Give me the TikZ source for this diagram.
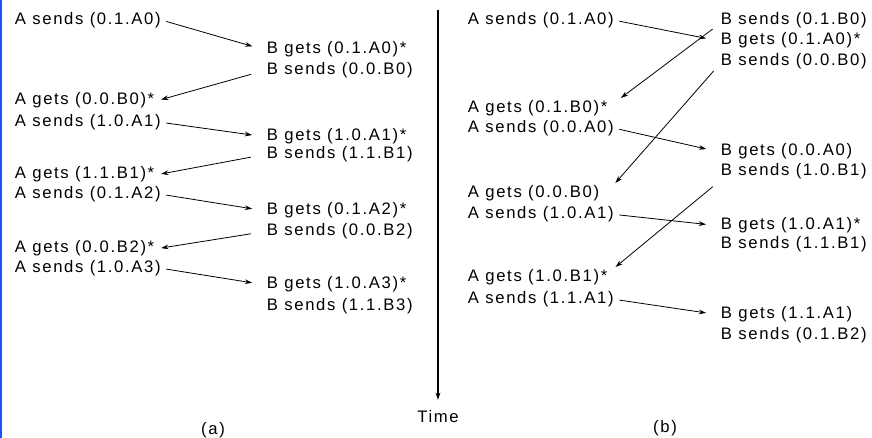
\documentclass[tikz,border=0pt]{standalone}
\usepackage{fontspec}
\usetikzlibrary{arrows.meta}
\setmainfont{Liberation Sans}[LetterSpace=10]
\definecolor{edgeblue}{RGB}{25,85,245}
\begin{document}
\begin{tikzpicture}[x=0.75pt, y=-0.75pt, >={Stealth[length=5.5pt,width=3.5pt]},
    lbl/.style={anchor=base west, inner sep=2pt, font=\fontsize{12.5}{15}\selectfont},
    ab/.style={->, line width=0.6pt, shorten <=2pt, shorten >=9pt},
    ba/.style={->, line width=0.6pt, shorten <=10pt, shorten >=3pt},
    cross/.style={->, line width=0.6pt, shorten <=5pt}]
    \useasboundingbox (0,0) rectangle (872,438);
    \draw[edgeblue, line width=1.5pt] (0.8,0) -- (0.8,438);

    \begin{scope}
        \node[lbl] (as0) at (12,25)  {A sends (0.1.A0)};
        \node[lbl] (ag0) at (12,105) {A gets (0.0.B0)*};
        \node[lbl] (as1) at (12,127) {A sends (1.0.A1)};
        \node[lbl] (ag1) at (12,179) {A gets (1.1.B1)*};
        \node[lbl] (as2) at (12,199) {A sends (0.1.A2)};
        \node[lbl] (ag2) at (12,253) {A gets (0.0.B2)*};
        \node[lbl] (as3) at (12,273) {A sends (1.0.A3)};

        \node[lbl] (bg0) at (264,54)  {B gets (0.1.A0)*};
        \node[lbl] (bs0) at (264,75)  {B sends (0.0.B0)};
        \node[lbl] (bg1) at (264,141) {B gets (1.0.A1)*};
        \node[lbl] (bs1) at (264,159) {B sends (1.1.B1)};
        \node[lbl] (bg2) at (264,215) {B gets (0.1.A2)*};
        \node[lbl] (bs2) at (264,236) {B sends (0.0.B2)};
        \node[lbl] (bg3) at (264,289) {B gets (1.0.A3)*};
        \node[lbl] (bs3) at (264,311) {B sends (1.1.B3)};

        \draw[ab] (as0.east) -- (bg0.west);
        \draw[ba] (bs0.west) -- (ag0.east);
        \draw[ab] (as1.east) -- (bg1.west);
        \draw[ba] (bs1.west) -- (ag1.east);
        \draw[ab] (as2.east) -- (bg2.west);
        \draw[ba] (bs2.west) -- (ag2.east);
        \draw[ab] (as3.east) -- (bg3.west);

        \node[lbl, anchor=center] (capa) at (213,430) {(a)};
    \end{scope}

    \coordinate (ttop) at (438,10);
    \node[lbl, anchor=center] (time) at (438,417) {Time};
    \draw[->, line width=1.5pt, shorten >=6pt] (ttop) -- (time.north);

    \begin{scope}
        \node[lbl] (as0) at (465,25)  {A sends (0.1.A0)};
        \node[lbl] (ag0) at (465,113) {A gets (0.1.B0)*};
        \node[lbl] (as1) at (465,133) {A sends (0.0.A0)};
        \node[lbl] (ag1) at (465,198) {A gets (0.0.B0)};
        \node[lbl] (as2) at (465,219) {A sends (1.0.A1)};
        \node[lbl] (ag2) at (465,282) {A gets (1.0.B1)*};
        \node[lbl] (as3) at (465,304) {A sends (1.1.A1)};

        \node[lbl] (bs0) at (718,25)  {B sends (0.1.B0)};
        \node[lbl] (bg0) at (718,45)  {B gets (0.1.A0)*};
        \node[lbl] (bs1) at (718,66)  {B sends (0.0.B0)};
        \node[lbl] (bg1) at (718,156) {B gets (0.0.A0)};
        \node[lbl] (bs2) at (718,176) {B sends (1.0.B1)};
        \node[lbl] (bg2) at (718,230) {B gets (1.0.A1)*};
        \node[lbl] (bs3) at (718,249) {B sends (1.1.B1)};
        \node[lbl] (bg3) at (718,319) {B gets (1.1.A1)};
        \node[lbl] (bs4) at (718,340) {B sends (0.1.B2)};

        \draw[ab] (as0.east) -- (bg0.west);
        \draw[cross] (bs0.base west) -- ([xshift=8pt]ag0.north east);
        \draw[ab] (as1.east) -- (bg1.west);
        \draw[cross] (bs1.base west) -- ([xshift=10pt]ag1.north east);
        \draw[ab] (as2.east) -- (bg2.west);
        \draw[cross] (bs2.south west) -- ([xshift=4pt]ag2.north east);
        \draw[ab] (as3.east) -- (bg3.west);

        \node[lbl, anchor=center] (capb) at (665,428) {(b)};
    \end{scope}
\end{tikzpicture}
\end{document}
